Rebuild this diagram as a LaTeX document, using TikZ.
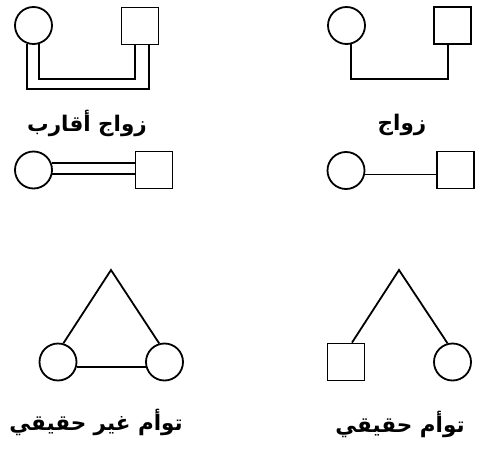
\documentclass[tikz,border=0pt]{standalone}
\usepackage{fontspec}
\newfontfamily\arabicfont[Script=Arabic]{DejaVu Sans}
\TeXXeTstate=1
\begin{document}
\begin{tikzpicture}[x=1pt,y=-1pt,
  line width=1.8pt,
  female/.style={draw,circle,minimum size=37pt,inner sep=0pt},
  male/.style={draw,rectangle,minimum size=37pt,inner sep=0pt},
  lbl/.style={font=\arabicfont\bfseries\fontsize{21.5}{24}\selectfont,inner sep=0pt}]
\useasboundingbox (0,0) rectangle (481,449);
% top-left: consanguineous marriage (U shape)
\node[female] (cA) at (33.5,25.5) {};
\node[male] (sA) at (140,26) {};
\coordinate (bAin) at (0,79);
\coordinate (bAout) at (0,89);
\draw (cA.-73) -- (cA.-73 |- bAin) -| ([xshift=-5pt]sA.south);
\draw (cA.-110) -- (cA.-110 |- bAout) -| ([xshift=9pt]sA.south);
\node[lbl] (tA) at (87,123) {\beginR زواج أقارب\endR};
% top-right: marriage (U shape)
\node[female] (cB) at (346.5,25.5) {};
\node[male] (sB) at (452.5,25.5) {};
\coordinate (bB) at (0,79);
\draw (cB.-76) -- (cB.-76 |- bB) -| ([xshift=-4.5pt]sB.south);
\node[lbl] (tB) at (402,125) {\beginR زواج\endR};
% middle-left: consanguineous marriage (double line)
\node[female] (cC) at (33.5,170) {};
\node[male] (sC) at (154,170) {};
\draw (cC.21.6) -- (sC.west |- cC.21.6);
\draw (cC.-12) -- (sC.west |- cC.-12);
% middle-right: marriage (single line)
\node[female] (cD) at (346,170.5) {};
\node[male] (sD) at (455.5,170) {};
\draw (cD.-12) -- (sD.west |- cD.-12);
% bottom-left: dizygotic twins
\coordinate (apE) at (111,270);
\node[female] (cE1) at (58,362) {};
\node[female] (cE2) at (164.5,362) {};
\draw (cE1.74) -- (apE) -- (cE2.106);
\draw (cE1.-15) -- (cE2.195);
\node[lbl] (tE) at (96,422) {\beginR توأم غير حقيقي\endR};
% bottom-right: monozygotic twins
\coordinate (apF) at (399,270);
\node[male] (sF) at (346,362) {};
\node[female] (cF) at (452.5,362) {};
\draw ([xshift=6pt]sF.north) -- (apF) -- (cF.105);
\node[lbl] (tF) at (400,424) {\beginR توأم حقيقي\endR};
\end{tikzpicture}
\end{document}
